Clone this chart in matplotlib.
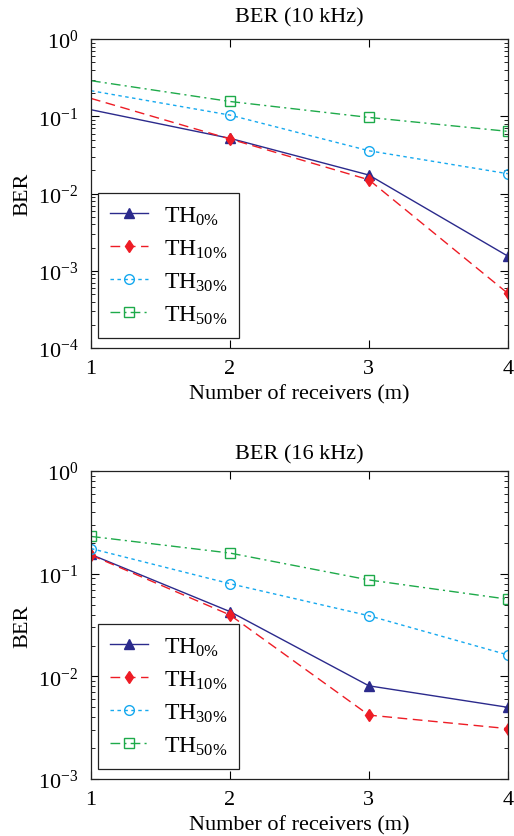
#!/usr/bin/env python3
import matplotlib
matplotlib.use('Agg')
import matplotlib.pyplot as plt
from matplotlib.ticker import LogLocator, NullFormatter, FixedLocator

# data
receivers = [1, 2, 3, 4]
labels = [r'TH$_{0\%}$', r'TH$_{10\%}$', r'TH$_{30\%}$', r'TH$_{50\%}$']

ber_10k_th0 = [0.122, 0.052, 0.0174, 0.00155]
ber_10k_th10 = [0.171, 0.051, 0.0151, 0.00051]
ber_10k_th30 = [0.215, 0.104, 0.0359, 0.0181]
ber_10k_th50 = [0.29, 0.156, 0.097, 0.064]

ber_16k_th0 = [0.154, 0.0428, 0.0081, 0.0050]
ber_16k_th10 = [0.152, 0.0397, 0.0042, 0.0031]
ber_16k_th30 = [0.176, 0.080, 0.039, 0.0162]
ber_16k_th50 = [0.231, 0.159, 0.087, 0.0565]

titles = ['BER (10 kHz)', 'BER (16 kHz)']
ylims = [(1e-4, 1), (1e-3, 1)]

colors = ['#2b2a8c', '#ee1c25', '#16a9ef', '#1eaa4a']
styles = [
    dict(linestyle='-', marker='^', markersize=7, mfc='#2b2a8c'),
    dict(linestyle=(0, (7, 4)), marker='d', markersize=6, mfc='#ee1c25'),
    dict(linestyle=(0, (2.5, 2.5)), marker='o', markersize=7, mfc='none'),
    dict(linestyle=(0, (7, 3, 1.5, 3)), marker='s', markersize=7, mfc='none'),
]

plt.rcParams['font.family'] = 'Liberation Serif'
plt.rcParams['mathtext.fontset'] = 'custom'
plt.rcParams['mathtext.rm'] = 'Liberation Serif'
plt.rcParams['mathtext.it'] = 'Liberation Serif:italic'
plt.rcParams['mathtext.default'] = 'rm'
plt.rcParams['font.size'] = 15


def draw_panel(ax, series, title, ylim, markevery, title_pad):
    for i, values in enumerate(series):
        st = styles[i]
        ax.plot(receivers, values, color=colors[i], linewidth=1.0, linestyle=st['linestyle'],
                marker=st['marker'], markersize=st['markersize'], markerfacecolor=st['mfc'],
                markeredgecolor=colors[i], markeredgewidth=1.0, markevery=markevery, label=labels[i])
    ax.set_yscale('log')
    ax.set_ylim(*ylim)
    ax.set_xlim(1, 4)
    ax.xaxis.set_major_locator(FixedLocator(receivers))
    ax.yaxis.set_major_locator(LogLocator(base=10, numticks=10))
    ax.yaxis.set_minor_locator(LogLocator(base=10, subs=range(2, 10), numticks=20))
    ax.yaxis.set_minor_formatter(NullFormatter())
    ax.tick_params(which='both', direction='in', top=True, right=True, labelsize=16)
    ax.tick_params(which='major', length=6, width=0.8)
    ax.tick_params(which='minor', length=3, width=0.6)
    ax.tick_params(axis='x', pad=8)
    ax.tick_params(axis='y', pad=9)
    for sp in ax.spines.values():
        sp.set_linewidth(0.9)
        sp.set_color('#222222')
    ax.set_title(title, fontsize=16, pad=title_pad)
    ax.set_ylabel('BER', fontsize=16, labelpad=4)
    ax.set_xlabel('Number of receivers (m)', fontsize=16, labelpad=4)
    leg = ax.legend(loc='lower left', bbox_to_anchor=(0.017, 0.034), borderaxespad=0, fancybox=False,
                    edgecolor='#222222', framealpha=1, fontsize=17, labelspacing=0.45, handlelength=1.6,
                    handletextpad=0.7, borderpad=0.5)
    leg.get_frame().set_linewidth(0.9)


fig = plt.figure(figsize=(5.14, 8.37), dpi=100)
ax1 = fig.add_axes([0.177, 0.583, 0.811, 0.369])
ax2 = fig.add_axes([0.177, 0.068, 0.811, 0.368])

draw_panel(ax1, [ber_10k_th0, ber_10k_th10, ber_10k_th30, ber_10k_th50], titles[0], ylims[0], [1, 2, 3], 13)
draw_panel(ax2, [ber_16k_th0, ber_16k_th10, ber_16k_th30, ber_16k_th50], titles[1], ylims[1], None, 9)

fig.savefig('out.png', dpi=100)
